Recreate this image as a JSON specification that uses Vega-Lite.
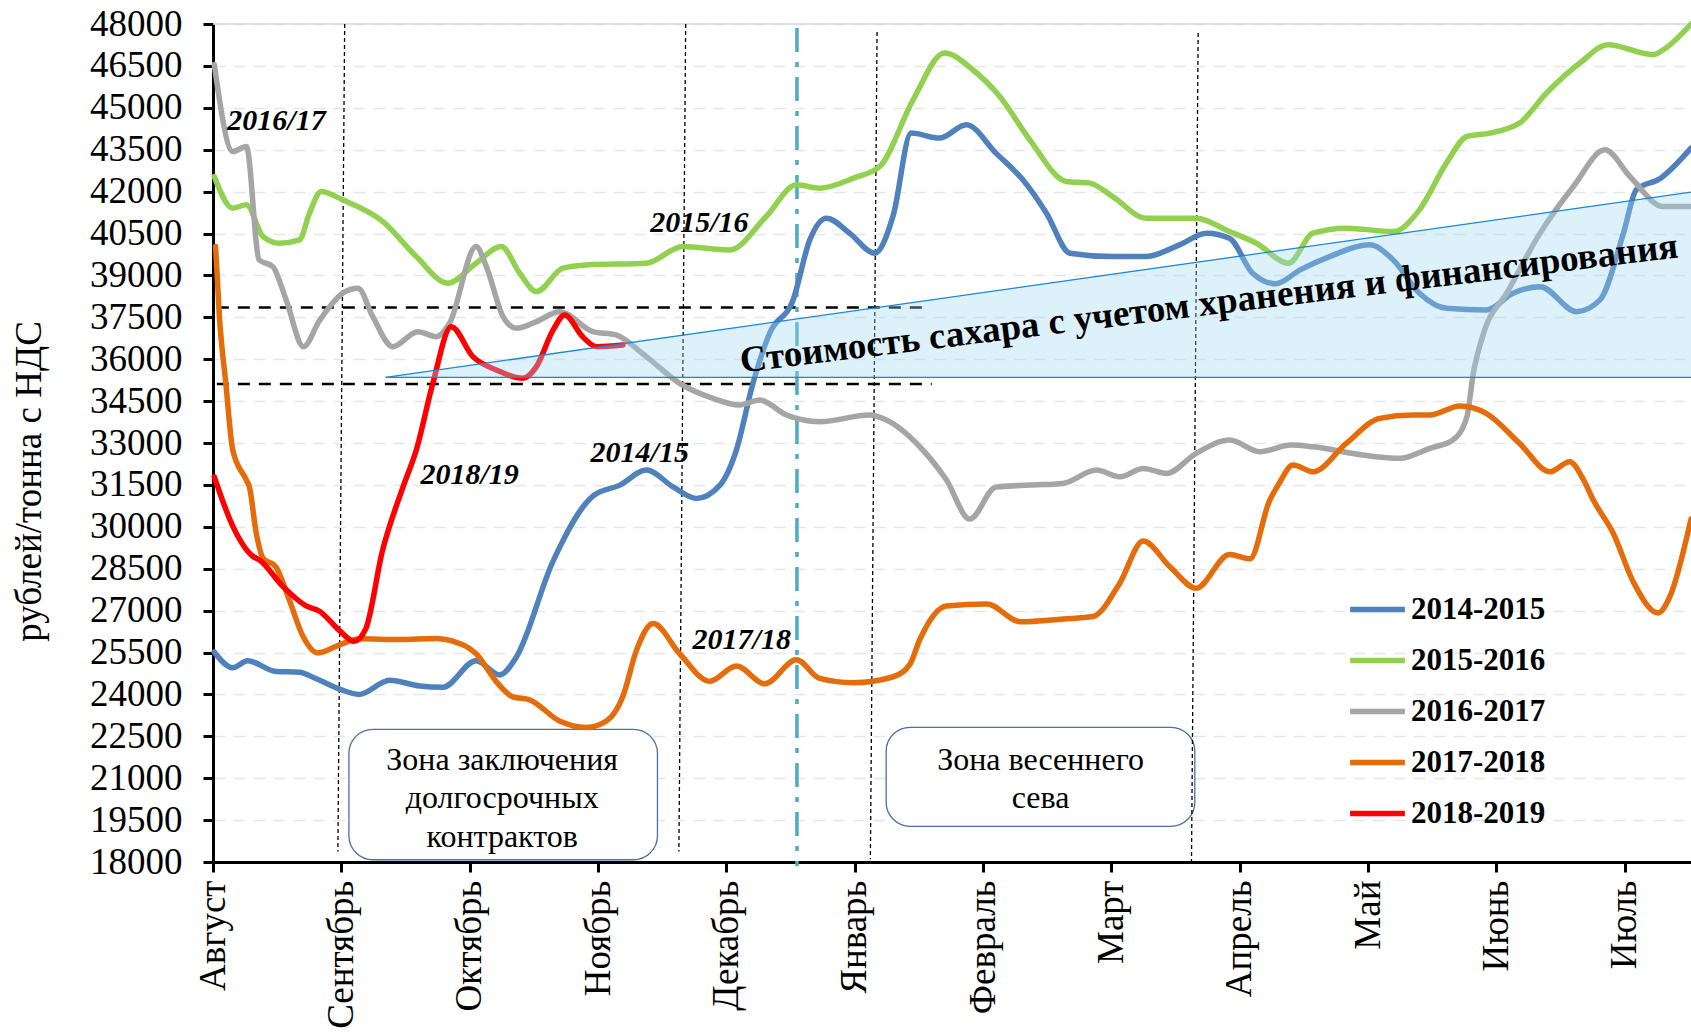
{
"$schema": "https://vega.github.io/schema/vega-lite/v6.json",
"width": 1478, "height": 838,
"autosize": {"type": "none"},
"padding": {"left": 213, "top": 24, "right": 0, "bottom": 173},
"background": "white",
"config": {"view": {"stroke": null}, "font": "Liberation Serif"},
"datasets": {
"prices": [
{"s":"2014-2015","m":0.01,"v":25520},{"s":"2014-2015","m":0.154,"v":24950},{"s":"2014-2015","m":0.27,"v":25205},{"s":"2014-2015","m":0.49,"v":24822},{"s":"2014-2015","m":0.674,"v":24797},{"s":"2014-2015","m":0.8,"v":24571},{"s":"2014-2015","m":0.986,"v":24191},{"s":"2014-2015","m":1.14,"v":24000},{"s":"2014-2015","m":1.376,"v":24506},{"s":"2014-2015","m":1.61,"v":24300},{"s":"2014-2015","m":1.79,"v":24252},{"s":"2014-2015","m":2.05,"v":25205},{"s":"2014-2015","m":2.233,"v":24697},{"s":"2014-2015","m":2.363,"v":25330},{"s":"2014-2015","m":2.648,"v":28756},{"s":"2014-2015","m":2.96,"v":31100},{"s":"2014-2015","m":3.17,"v":31493},{"s":"2014-2015","m":3.376,"v":32031},{"s":"2014-2015","m":3.584,"v":31432},{"s":"2014-2015","m":3.766,"v":31017},{"s":"2014-2015","m":3.95,"v":31493},{"s":"2014-2015","m":4.078,"v":32747},{"s":"2014-2015","m":4.207,"v":35137},{"s":"2014-2015","m":4.337,"v":36929},{"s":"2014-2015","m":4.52,"v":38122},{"s":"2014-2015","m":4.65,"v":40272},{"s":"2014-2015","m":4.78,"v":41049},{"s":"2014-2015","m":4.96,"v":40512},{"s":"2014-2015","m":5.156,"v":39795},{"s":"2014-2015","m":5.3,"v":41150},{"s":"2014-2015","m":5.44,"v":44094},{"s":"2014-2015","m":5.66,"v":43915},{"s":"2014-2015","m":5.87,"v":44392},{"s":"2014-2015","m":6.1,"v":43378},{"s":"2014-2015","m":6.31,"v":42421},{"s":"2014-2015","m":6.494,"v":41228},{"s":"2014-2015","m":6.676,"v":39795},{"s":"2014-2015","m":7.013,"v":39673},{"s":"2014-2015","m":7.27,"v":39673},{"s":"2014-2015","m":7.53,"v":40093},{"s":"2014-2015","m":7.74,"v":40512},{"s":"2014-2015","m":7.92,"v":40332},{"s":"2014-2015","m":8.1,"v":39078},{"s":"2014-2015","m":8.28,"v":38700},{"s":"2014-2015","m":8.47,"v":39197},{"s":"2014-2015","m":8.7,"v":39673},{"s":"2014-2015","m":9.01,"v":40093},{"s":"2014-2015","m":9.196,"v":39555},{"s":"2014-2015","m":9.4,"v":38362},{"s":"2014-2015","m":9.61,"v":37824},{"s":"2014-2015","m":9.92,"v":37763},{"s":"2014-2015","m":10.13,"v":38362},{"s":"2014-2015","m":10.34,"v":38598},{"s":"2014-2015","m":10.625,"v":37703},{"s":"2014-2015","m":10.807,"v":38122},{"s":"2014-2015","m":10.99,"v":40512},{"s":"2014-2015","m":11.09,"v":42063},{"s":"2014-2015","m":11.28,"v":42482},{"s":"2014-2015","m":11.516,"v":43557},
{"s":"2015-2016","m":0.01,"v":42540},{"s":"2015-2016","m":0.154,"v":41407},{"s":"2015-2016","m":0.26,"v":41526},{"s":"2015-2016","m":0.39,"v":40390},{"s":"2015-2016","m":0.518,"v":40153},{"s":"2015-2016","m":0.674,"v":40272},{"s":"2015-2016","m":0.752,"v":41228},{"s":"2015-2016","m":0.843,"v":42002},{"s":"2015-2016","m":1.01,"v":41705},{"s":"2015-2016","m":1.324,"v":40927},{"s":"2015-2016","m":1.584,"v":39673},{"s":"2015-2016","m":1.83,"v":38720},{"s":"2015-2016","m":2.05,"v":39437},{"s":"2015-2016","m":2.246,"v":40032},{"s":"2015-2016","m":2.39,"v":39078},{"s":"2015-2016","m":2.52,"v":38420},{"s":"2015-2016","m":2.726,"v":39257},{"s":"2015-2016","m":2.91,"v":39375},{"s":"2015-2016","m":3.376,"v":39437},{"s":"2015-2016","m":3.66,"v":40032},{"s":"2015-2016","m":4.026,"v":39913},{"s":"2015-2016","m":4.31,"v":41107},{"s":"2015-2016","m":4.546,"v":42242},{"s":"2015-2016","m":4.727,"v":42124},{"s":"2015-2016","m":5.0,"v":42500},{"s":"2015-2016","m":5.195,"v":42898},{"s":"2015-2016","m":5.455,"v":45288},{"s":"2015-2016","m":5.7,"v":46961},{"s":"2015-2016","m":5.92,"v":46363},{"s":"2015-2016","m":6.13,"v":45406},{"s":"2015-2016","m":6.364,"v":43854},{"s":"2015-2016","m":6.65,"v":42360},{"s":"2015-2016","m":6.83,"v":42303},{"s":"2015-2016","m":7.01,"v":41823},{"s":"2015-2016","m":7.27,"v":41049},{"s":"2015-2016","m":7.66,"v":41049},{"s":"2015-2016","m":7.92,"v":40569},{"s":"2015-2016","m":8.13,"v":40153},{"s":"2015-2016","m":8.38,"v":39437},{"s":"2015-2016","m":8.57,"v":40512},{"s":"2015-2016","m":8.83,"v":40691},{"s":"2015-2016","m":9.196,"v":40569},{"s":"2015-2016","m":9.4,"v":41346},{"s":"2015-2016","m":9.61,"v":43020},{"s":"2015-2016","m":9.77,"v":43973},{"s":"2015-2016","m":9.95,"v":44094},{"s":"2015-2016","m":10.18,"v":44453},{"s":"2015-2016","m":10.39,"v":45528},{"s":"2015-2016","m":10.65,"v":46603},{"s":"2015-2016","m":10.87,"v":47258},{"s":"2015-2016","m":11.22,"v":46900},{"s":"2015-2016","m":11.3,"v":47079},{"s":"2015-2016","m":11.516,"v":48000},
{"s":"2016-2017","m":0.01,"v":46550},{"s":"2016-2017","m":0.155,"v":43435},{"s":"2016-2017","m":0.26,"v":43614},{"s":"2016-2017","m":0.36,"v":39555},{"s":"2016-2017","m":0.466,"v":39315},{"s":"2016-2017","m":0.57,"v":38122},{"s":"2016-2017","m":0.705,"v":36448},{"s":"2016-2017","m":0.83,"v":37384},{"s":"2016-2017","m":1.01,"v":38362},{"s":"2016-2017","m":1.13,"v":38541},{"s":"2016-2017","m":1.245,"v":37523},{"s":"2016-2017","m":1.4,"v":36448},{"s":"2016-2017","m":1.596,"v":36986},{"s":"2016-2017","m":1.74,"v":36807},{"s":"2016-2017","m":1.843,"v":37287},{"s":"2016-2017","m":2.05,"v":40032},{"s":"2016-2017","m":2.13,"v":39315},{"s":"2016-2017","m":2.26,"v":37523},{"s":"2016-2017","m":2.363,"v":37108},{"s":"2016-2017","m":2.52,"v":37344},{"s":"2016-2017","m":2.7,"v":37703},{"s":"2016-2017","m":2.96,"v":36986},{"s":"2016-2017","m":3.14,"v":36868},{"s":"2016-2017","m":3.376,"v":36091},{"s":"2016-2017","m":3.636,"v":35137},{"s":"2016-2017","m":3.896,"v":34600},{"s":"2016-2017","m":4.1,"v":34360},{"s":"2016-2017","m":4.26,"v":34539},{"s":"2016-2017","m":4.468,"v":34000},{"s":"2016-2017","m":4.727,"v":33762},{"s":"2016-2017","m":5.117,"v":34000},{"s":"2016-2017","m":5.247,"v":33822},{"s":"2016-2017","m":5.507,"v":32866},{"s":"2016-2017","m":5.715,"v":31673},{"s":"2016-2017","m":5.896,"v":30275},{"s":"2016-2017","m":6.1,"v":31420},{"s":"2016-2017","m":6.364,"v":31493},{"s":"2016-2017","m":6.62,"v":31554},{"s":"2016-2017","m":6.884,"v":32031},{"s":"2016-2017","m":7.066,"v":31790},{"s":"2016-2017","m":7.247,"v":32090},{"s":"2016-2017","m":7.43,"v":31912},{"s":"2016-2017","m":7.66,"v":32630},{"s":"2016-2017","m":7.92,"v":33105},{"s":"2016-2017","m":8.157,"v":32687},{"s":"2016-2017","m":8.4,"v":32926},{"s":"2016-2017","m":8.57,"v":32866},{"s":"2016-2017","m":8.96,"v":32568},{"s":"2016-2017","m":9.25,"v":32450},{"s":"2016-2017","m":9.48,"v":32808},{"s":"2016-2017","m":9.66,"v":33105},{"s":"2016-2017","m":9.77,"v":33941},{"s":"2016-2017","m":9.82,"v":35496},{"s":"2016-2017","m":9.9,"v":36929},{"s":"2016-2017","m":10.08,"v":38362},{"s":"2016-2017","m":10.34,"v":40512},{"s":"2016-2017","m":10.6,"v":42181},{"s":"2016-2017","m":10.846,"v":43496},{"s":"2016-2017","m":11.04,"v":42540},{"s":"2016-2017","m":11.3,"v":41465},{"s":"2016-2017","m":11.516,"v":41465},
{"s":"2017-2018","m":0.02,"v":40032},{"s":"2017-2018","m":0.05,"v":37523},{"s":"2017-2018","m":0.1,"v":35137},{"s":"2017-2018","m":0.154,"v":32747},{"s":"2017-2018","m":0.26,"v":31673},{"s":"2017-2018","m":0.284,"v":31418},{"s":"2017-2018","m":0.337,"v":29770},{"s":"2017-2018","m":0.39,"v":28881},{"s":"2017-2018","m":0.49,"v":28565},{"s":"2017-2018","m":0.596,"v":27358},{"s":"2017-2018","m":0.7,"v":26090},{"s":"2017-2018","m":0.817,"v":25485},{"s":"2017-2018","m":0.986,"v":25775},{"s":"2017-2018","m":1.14,"v":25990},{"s":"2017-2018","m":1.454,"v":25965},{"s":"2017-2018","m":1.74,"v":26004},{"s":"2017-2018","m":1.87,"v":25904},{"s":"2017-2018","m":2.05,"v":25456},{"s":"2017-2018","m":2.21,"v":24442},{"s":"2017-2018","m":2.337,"v":23911},{"s":"2017-2018","m":2.467,"v":23807},{"s":"2017-2018","m":2.7,"v":23048},{"s":"2017-2018","m":2.91,"v":22818},{"s":"2017-2018","m":3.065,"v":23048},{"s":"2017-2018","m":3.194,"v":23937},{"s":"2017-2018","m":3.3,"v":25585},{"s":"2017-2018","m":3.43,"v":26535},{"s":"2017-2018","m":3.636,"v":25456},{"s":"2017-2018","m":3.87,"v":24467},{"s":"2017-2018","m":4.078,"v":25015},{"s":"2017-2018","m":4.3,"v":24380},{"s":"2017-2018","m":4.546,"v":25241},{"s":"2017-2018","m":4.727,"v":24571},{"s":"2017-2018","m":4.987,"v":24417},{"s":"2017-2018","m":5.3,"v":24632},{"s":"2017-2018","m":5.43,"v":25076},{"s":"2017-2018","m":5.507,"v":25965},{"s":"2017-2018","m":5.715,"v":27168},{"s":"2017-2018","m":6.03,"v":27233},{"s":"2017-2018","m":6.29,"v":26600},{"s":"2017-2018","m":6.624,"v":26700},{"s":"2017-2018","m":6.857,"v":26789},{"s":"2017-2018","m":7.066,"v":27992},{"s":"2017-2018","m":7.247,"v":29490},{"s":"2017-2018","m":7.457,"v":28566},{"s":"2017-2018","m":7.66,"v":27803},{"s":"2017-2018","m":7.92,"v":29010},{"s":"2017-2018","m":8.08,"v":28856},{"s":"2017-2018","m":8.23,"v":30913},{"s":"2017-2018","m":8.3,"v":31500},{"s":"2017-2018","m":8.416,"v":32210},{"s":"2017-2018","m":8.57,"v":31970},{"s":"2017-2018","m":8.83,"v":32987},{"s":"2017-2018","m":9.09,"v":33883},{"s":"2017-2018","m":9.35,"v":34001},{"s":"2017-2018","m":9.48,"v":34001},{"s":"2017-2018","m":9.715,"v":34324},{"s":"2017-2018","m":9.92,"v":34062},{"s":"2017-2018","m":10.18,"v":32987},{"s":"2017-2018","m":10.417,"v":31970},{"s":"2017-2018","m":10.57,"v":32328},{"s":"2017-2018","m":10.68,"v":31672},{"s":"2017-2018","m":10.755,"v":30956},{"s":"2017-2018","m":10.91,"v":29770},{"s":"2017-2018","m":11.07,"v":27992},{"s":"2017-2018","m":11.26,"v":26918},{"s":"2017-2018","m":11.35,"v":27487},{"s":"2017-2018","m":11.516,"v":30278},
{"s":"2018-2019","m":0.01,"v":31791},{"s":"2018-2019","m":0.154,"v":30025},{"s":"2018-2019","m":0.31,"v":28946},{"s":"2018-2019","m":0.36,"v":28820},{"s":"2018-2019","m":0.544,"v":27867},{"s":"2018-2019","m":0.726,"v":27168},{"s":"2018-2019","m":0.83,"v":26978},{"s":"2018-2019","m":0.986,"v":26283},{"s":"2018-2019","m":1.1,"v":25900},{"s":"2018-2019","m":1.19,"v":26344},{"s":"2018-2019","m":1.32,"v":29136},{"s":"2018-2019","m":1.48,"v":31418},{"s":"2018-2019","m":1.584,"v":32747},{"s":"2018-2019","m":1.713,"v":35137},{"s":"2018-2019","m":1.856,"v":37165},{"s":"2018-2019","m":2.025,"v":36091},{"s":"2018-2019","m":2.207,"v":35614},{"s":"2018-2019","m":2.415,"v":35316},{"s":"2018-2019","m":2.52,"v":35733},{"s":"2018-2019","m":2.65,"v":37047},{"s":"2018-2019","m":2.74,"v":37584},{"s":"2018-2019","m":2.88,"v":36807},{"s":"2018-2019","m":2.987,"v":36448},{"s":"2018-2019","m":3.194,"v":36509}
],
"boxes": [
{"m":1.059,"m2":3.463,"v":22750,"v2":18080},
{"m":5.245,"m2":7.65,"v":22823,"v2":19276}
],
"hdash": [
{"m":0.03,"m2":5.53,"v":37850},
{"m":0.03,"m2":5.6,"v":35110}
],
"vdots": [
{"m":1.026,"v":48000,"m2":0.973,"v2":18380},
{"m":3.683,"v":48000,"m2":3.63,"v2":18380},
{"m":5.174,"v":47713,"m2":5.122,"v2":18100},
{"m":7.676,"v":47678,"m2":7.624,"v2":18040}
],
"cyan": [{"m":4.55,"v":47857,"m2":4.55,"v2":17849}],
"wedge": [
{"m":1.345,"v":35350,"v2":35350},
{"m":11.516,"v":41980,"v2":35350}
],
"wedgeEdges": [
{"m":1.345,"v":35350,"m2":11.516,"v2":41980},
{"m":1.345,"v":35350,"m2":11.516,"v2":35350}
],
"top": [{"m":0,"m2":11.516,"v":48000}],
"seasonLabels": [
{"t":"2016/17","m":0.495,"v":44510},
{"t":"2015/16","m":3.79,"v":40870},
{"t":"2014/15","m":3.325,"v":32630},
{"t":"2018/19","m":2.0,"v":31850},
{"t":"2017/18","m":4.12,"v":25958}
],
"boxText": [
{"t":"Зона заключения","m":2.253,"v":21640},
{"t":"долгосрочных","m":2.253,"v":20280},
{"t":"контрактов","m":2.253,"v":18880},
{"t":"Зона весеннего","m":6.448,"v":21640},
{"t":"сева","m":6.448,"v":20280}
],
"bigText": [{"t":"Стоимость сахара с учетом хранения и финансирования","m":7.76,"v":37980}]
},
"layer": [
{
"data": {"name": "top"},
"mark": {"type": "rule", "color": "#d9d9d9", "strokeWidth": 1.5},
"encoding": {
"x": {"field": "m", "type": "quantitative", "scale": {"domain": [0, 11.516], "nice": false, "zero": false},
"axis": {"values": [0,1,2,3,4,5,6,7,8,9,10,11], "title": null, "grid": false,
"labelExpr": "['Август','Сентябрь','Октябрь','Ноябрь','Декабрь','Январь','Февраль','Март','Апрель','Май','Июнь','Июль'][datum.value]",
"labelAngle": 270, "labelFontSize": 37, "labelFont": "Liberation Serif", "labelColor": "black", "labelPadding": 8,
"labelFlush": false, "labelOverlap": false, "labelBound": false,
"tickSize": 10, "tickWidth": 3, "tickColor": "black", "domainColor": "black", "domainWidth": 3}},
"x2": {"field": "m2"},
"y": {"field": "v", "type": "quantitative", "scale": {"domain": [18000, 48000], "nice": false, "zero": false},
"axis": {"values": [18000,19500,21000,22500,24000,25500,27000,28500,30000,31500,33000,34500,36000,37500,39000,40500,42000,43500,45000,46500,48000],
"format": "d", "title": "рублей/тонна с НДС", "titleFontSize": 37, "titleFont": "Liberation Serif", "titleFontWeight": "normal", "titleColor": "black",
"titleAngle": 270, "titleX": -165, "titleY": 457, "titleAlign": "center", "titleBaseline": "bottom",
"labelFontSize": 37, "labelFont": "Liberation Serif", "labelColor": "black", "labelPadding": 21,
"tickSize": 10, "tickWidth": 3, "tickColor": "black", "domainColor": "black", "domainWidth": 3,
"grid": true, "gridColor": "#e6e6e6", "gridDash": [12, 8], "gridWidth": 1.5}}
}
},
{
"data": {"name": "boxes"},
"mark": {"type": "rect", "fill": "white", "stroke": "#4a6fa8", "strokeWidth": 1.3, "cornerRadius": 24},
"encoding": {
"x": {"field": "m", "type": "quantitative"}, "x2": {"field": "m2"},
"y": {"field": "v", "type": "quantitative"}, "y2": {"field": "v2"}
}
},
{
"data": {"name": "hdash"},
"mark": {"type": "rule", "color": "black", "strokeWidth": 2.5, "strokeDash": [12, 9]},
"encoding": {
"x": {"field": "m", "type": "quantitative"}, "x2": {"field": "m2"},
"y": {"field": "v", "type": "quantitative"}
}
},
{
"data": {"name": "vdots"},
"mark": {"type": "rule", "color": "black", "strokeWidth": 1.3, "strokeDash": [4, 3]},
"encoding": {
"x": {"field": "m", "type": "quantitative"}, "x2": {"field": "m2"},
"y": {"field": "v", "type": "quantitative"}, "y2": {"field": "v2"}
}
},
{
"data": {"name": "cyan"},
"mark": {"type": "rule", "color": "#4bacc6", "strokeWidth": 3.5, "strokeDash": [24, 10, 5, 10]},
"encoding": {
"x": {"field": "m", "type": "quantitative"}, "x2": {"field": "m2"},
"y": {"field": "v", "type": "quantitative"}, "y2": {"field": "v2"}
}
},
{
"data": {"name": "prices"},
"mark": {"type": "line", "interpolate": "monotone", "strokeCap": "round", "strokeJoin": "round"},
"encoding": {
"x": {"field": "m", "type": "quantitative"},
"y": {"field": "v", "type": "quantitative"},
"color": {"field": "s", "type": "nominal",
"scale": {"domain": ["2014-2015","2015-2016","2016-2017","2017-2018","2018-2019"], "range": ["#4f81bd","#92d050","#a5a5a5","#e46c0a","#ff0000"]},
"legend": {"orient": "none", "legendX": 1134, "legendY": 555, "title": null, "padding": 0,
"symbolType": "stroke", "symbolSize": 3000, "symbolStrokeWidth": 7,
"labelFontSize": 31, "labelFont": "Liberation Serif", "labelFontWeight": "bold", "labelColor": "black",
"labelOffset": 3, "rowPadding": 5}},
"strokeWidth": {"field": "s", "type": "nominal",
"scale": {"domain": ["2014-2015","2015-2016","2016-2017","2017-2018","2018-2019"], "range": [5.5, 5.5, 5.5, 5.5, 8.5]},
"legend": null}
}
},
{
"data": {"name": "wedge"},
"mark": {"type": "area", "color": "#9dd6f3", "opacity": 0.35},
"encoding": {
"x": {"field": "m", "type": "quantitative"},
"y": {"field": "v", "type": "quantitative"}, "y2": {"field": "v2"}
}
},
{
"data": {"name": "wedgeEdges"},
"mark": {"type": "rule", "color": "#1a86d9", "strokeWidth": 1.3},
"encoding": {
"x": {"field": "m", "type": "quantitative"}, "x2": {"field": "m2"},
"y": {"field": "v", "type": "quantitative"}, "y2": {"field": "v2"}
}
},
{
"data": {"name": "seasonLabels"},
"mark": {"type": "text", "font": "Liberation Serif", "fontSize": 30, "fontWeight": "bold", "fontStyle": "italic", "color": "black", "align": "center", "baseline": "middle"},
"encoding": {
"x": {"field": "m", "type": "quantitative"},
"y": {"field": "v", "type": "quantitative"},
"text": {"field": "t"}
}
},
{
"data": {"name": "boxText"},
"mark": {"type": "text", "font": "Liberation Serif", "fontSize": 32, "color": "black", "align": "center", "baseline": "middle"},
"encoding": {
"x": {"field": "m", "type": "quantitative"},
"y": {"field": "v", "type": "quantitative"},
"text": {"field": "t"}
}
},
{
"data": {"name": "bigText"},
"mark": {"type": "text", "font": "Liberation Serif", "fontSize": 37, "fontWeight": "bold", "color": "black", "align": "center", "baseline": "middle", "angle": -7},
"encoding": {
"x": {"field": "m", "type": "quantitative"},
"y": {"field": "v", "type": "quantitative"},
"text": {"field": "t"}
}
}
]
}
